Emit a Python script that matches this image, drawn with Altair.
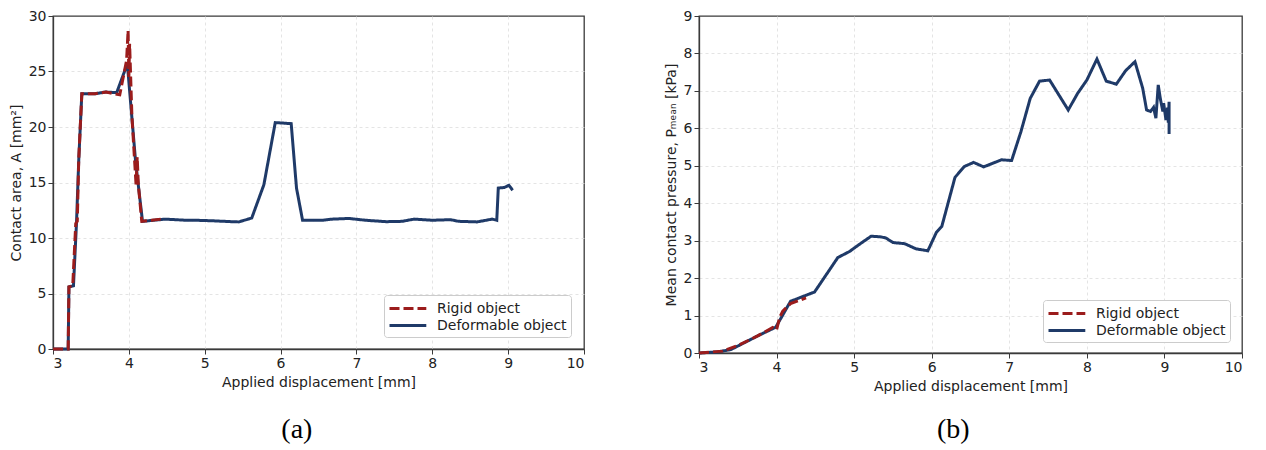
import altair as alt
import pandas as pd

# ---------------- data ----------------
SERIES = ["Rigid object", "Deformable object"]
COLORS = ["#9b1c1c", "#1f3a68"]
DASHES = [[10, 4], [1, 0]]

x_ticks = [3, 4, 5, 6, 7, 8, 9, 10]
a_ticks = [0, 5, 10, 15, 20, 25, 30]
p_ticks = [0, 1, 2, 3, 4, 5, 6, 7, 8, 9]

# (a) contact area
a_def_x = [3.0, 3.2, 3.21, 3.27, 3.31, 3.34, 3.38, 3.56, 3.69, 3.84,
           3.98, 4.09, 4.18, 4.48, 4.75, 4.88, 5.1, 5.36, 5.45, 5.62,
           5.78, 5.93, 6.14, 6.21, 6.29, 6.55, 6.68, 6.9, 7.12, 7.39,
           7.6, 7.76, 8.0, 8.24, 8.35, 8.59, 8.79, 8.85, 8.87, 8.95,
           9.01, 9.06]
a_def_y = [0, 0, 5.6, 5.7, 11.4, 17.1, 23.0, 23.0, 23.15, 23.1,
           25.7, 16.8, 11.5, 11.7, 11.6, 11.6, 11.55, 11.47, 11.45, 11.8,
           14.8, 20.4, 20.3, 14.5, 11.6, 11.6, 11.7, 11.76, 11.6, 11.47,
           11.5, 11.7, 11.6, 11.65, 11.5, 11.45, 11.7, 11.6, 14.5, 14.55,
           14.75, 14.3]
a_rig_x = [3.0, 3.2, 3.21, 3.26, 3.3, 3.32, 3.34, 3.38, 3.55, 3.7,
           3.88, 3.97, 3.99, 4.0, 4.01, 4.04, 4.08, 4.095, 4.11, 4.125,
           4.17, 4.3, 4.42]
a_rig_y = [0, 0, 5.6, 5.7, 11.3, 11.5, 17.2, 23.0, 23.0, 23.15,
           22.9, 26.0, 28.7, 24.5, 27.5, 21.0, 16.5, 14.8, 17.3, 14.8,
           11.5, 11.6, 11.7]

# (b) mean contact pressure
p_def_x = [3.0, 3.24, 3.41, 3.75, 3.99, 4.18, 4.49, 4.79, 4.94, 5.08,
           5.22, 5.35, 5.41, 5.5, 5.65, 5.8, 5.95, 6.06, 6.13, 6.3,
           6.42, 6.54, 6.67, 6.79, 6.9, 7.03, 7.15, 7.27, 7.39, 7.52,
           7.76, 7.88, 8.0, 8.13, 8.25, 8.38, 8.5, 8.62, 8.72, 8.77,
           8.82, 8.86, 8.89, 8.92, 8.95, 8.98, 8.99, 9.02, 9.04, 9.05,
           9.06, 9.06]
p_def_y = [0, 0.03, 0.09, 0.45, 0.69, 1.38, 1.63, 2.55, 2.71, 2.92,
           3.12, 3.1, 3.07, 2.95, 2.92, 2.78, 2.73, 3.22, 3.38, 4.69,
           4.98, 5.09, 4.97, 5.07, 5.16, 5.14, 5.91, 6.8, 7.26, 7.29,
           6.49, 6.93, 7.29, 7.85, 7.26, 7.18, 7.54, 7.78, 7.07, 6.49,
           6.45, 6.56, 6.27, 7.16, 6.76, 6.45, 6.67, 6.22, 6.55, 6.15,
           6.71, 5.85]
p_rig_x = [3.0, 3.3, 3.5, 3.75, 3.95, 4.0, 4.04, 4.08, 4.18, 4.38]
p_rig_y = [0, 0.05, 0.2, 0.45, 0.68, 0.62, 0.95, 1.12, 1.32, 1.47]


def frame(xs, ys, name):
    return pd.DataFrame({"x": xs, "y": ys, "series": name, "i": list(range(len(xs)))})


def legend(lx, ly):
    return alt.Legend(
        title=None, orient="none", legendX=lx, legendY=ly,
        symbolType="M-1,0H3.6", symbolSize=256, symbolStrokeWidth=3,
        labelOffset=30, labelFont="DejaVu Sans", labelFontSize=14,
        labelColor="#222", rowPadding=0, padding=4,
        strokeColor="#cccccc", fillColor="white", cornerRadius=3,
    )


def edge_hide(lo, hi):
    return {"condition": {"test": f"datum.value <= {lo} || datum.value >= {hi}", "value": 0},
            "value": 1}


def panel(df_def, df_rig, ytitle, yticks, w, h, lx, ly, caption, cap_offset):
    enc = dict(
        x=alt.X("x:Q", scale=alt.Scale(domain=[3, 10], nice=False, zero=False),
                axis=alt.Axis(title="Applied displacement [mm]", values=x_ticks,
                              gridOpacity=edge_hide(3, 10))),
        y=alt.Y("y:Q", scale=alt.Scale(domain=[yticks[0], yticks[-1]], nice=False),
                axis=alt.Axis(title=ytitle, values=yticks,
                              gridOpacity=edge_hide(yticks[0], yticks[-1]))),
        color=alt.Color("series:N", scale=alt.Scale(domain=SERIES, range=COLORS),
                        legend=legend(lx, ly)),
        strokeDash=alt.StrokeDash("series:N", scale=alt.Scale(domain=SERIES, range=DASHES),
                                  legend=legend(lx, ly)),
        order=alt.Order("i:Q"),
    )
    l_def = alt.Chart(df_def).mark_line(strokeWidth=3).encode(**enc)
    l_rig = alt.Chart(df_rig).mark_line(strokeWidth=3).encode(**enc)
    return alt.layer(l_def, l_rig).properties(
        width=w, height=h,
        title=alt.TitleParams(caption, orient="bottom", anchor="middle", frame="bounds",
                              font="Liberation Serif", fontSize=28,
                              fontWeight="normal", color="black", offset=cap_offset),
    )


left = panel(frame(a_def_x, a_def_y, SERIES[1]), frame(a_rig_x, a_rig_y, SERIES[0]),
             "Contact area, A [mm²]", a_ticks, 531, 333, 331, 279, "(a)", 27)
right = panel(frame(p_def_x, p_def_y, SERIES[1]), frame(p_rig_x, p_rig_y, SERIES[0]),
              "Mean contact pressure, Pₘₑₐₙ [kPa]", p_ticks, 543, 337, 344, 284, "(b)", 23)

chart = (
    alt.hconcat(left, right, spacing=77)
    .resolve_scale(x="independent", y="independent", color="independent",
                   strokeDash="independent")
    .resolve_legend(color="independent", strokeDash="independent")
    .properties(padding={"left": 0, "top": 0, "right": 0, "bottom": 0})
    .configure_view(stroke="#3a3a3a", strokeWidth=1.3)
    .configure_axis(
        domain=True, domainColor="#3a3a3a", domainWidth=1.3,
        grid=True, gridColor="#dddddd", gridDash=[3, 3], gridWidth=0.8,
        labelFont="DejaVu Sans", labelFontSize=14, labelColor="#222",
        titleFont="DejaVu Sans", titleFontSize=14, titleFontWeight="normal",
        titleColor="#222", tickColor="#3a3a3a", tickSize=5, tickWidth=1,
        labelPadding=2, titlePadding=5,
    )
)

chart.save("out.html", embed_options={"renderer": "svg", "actions": False})
